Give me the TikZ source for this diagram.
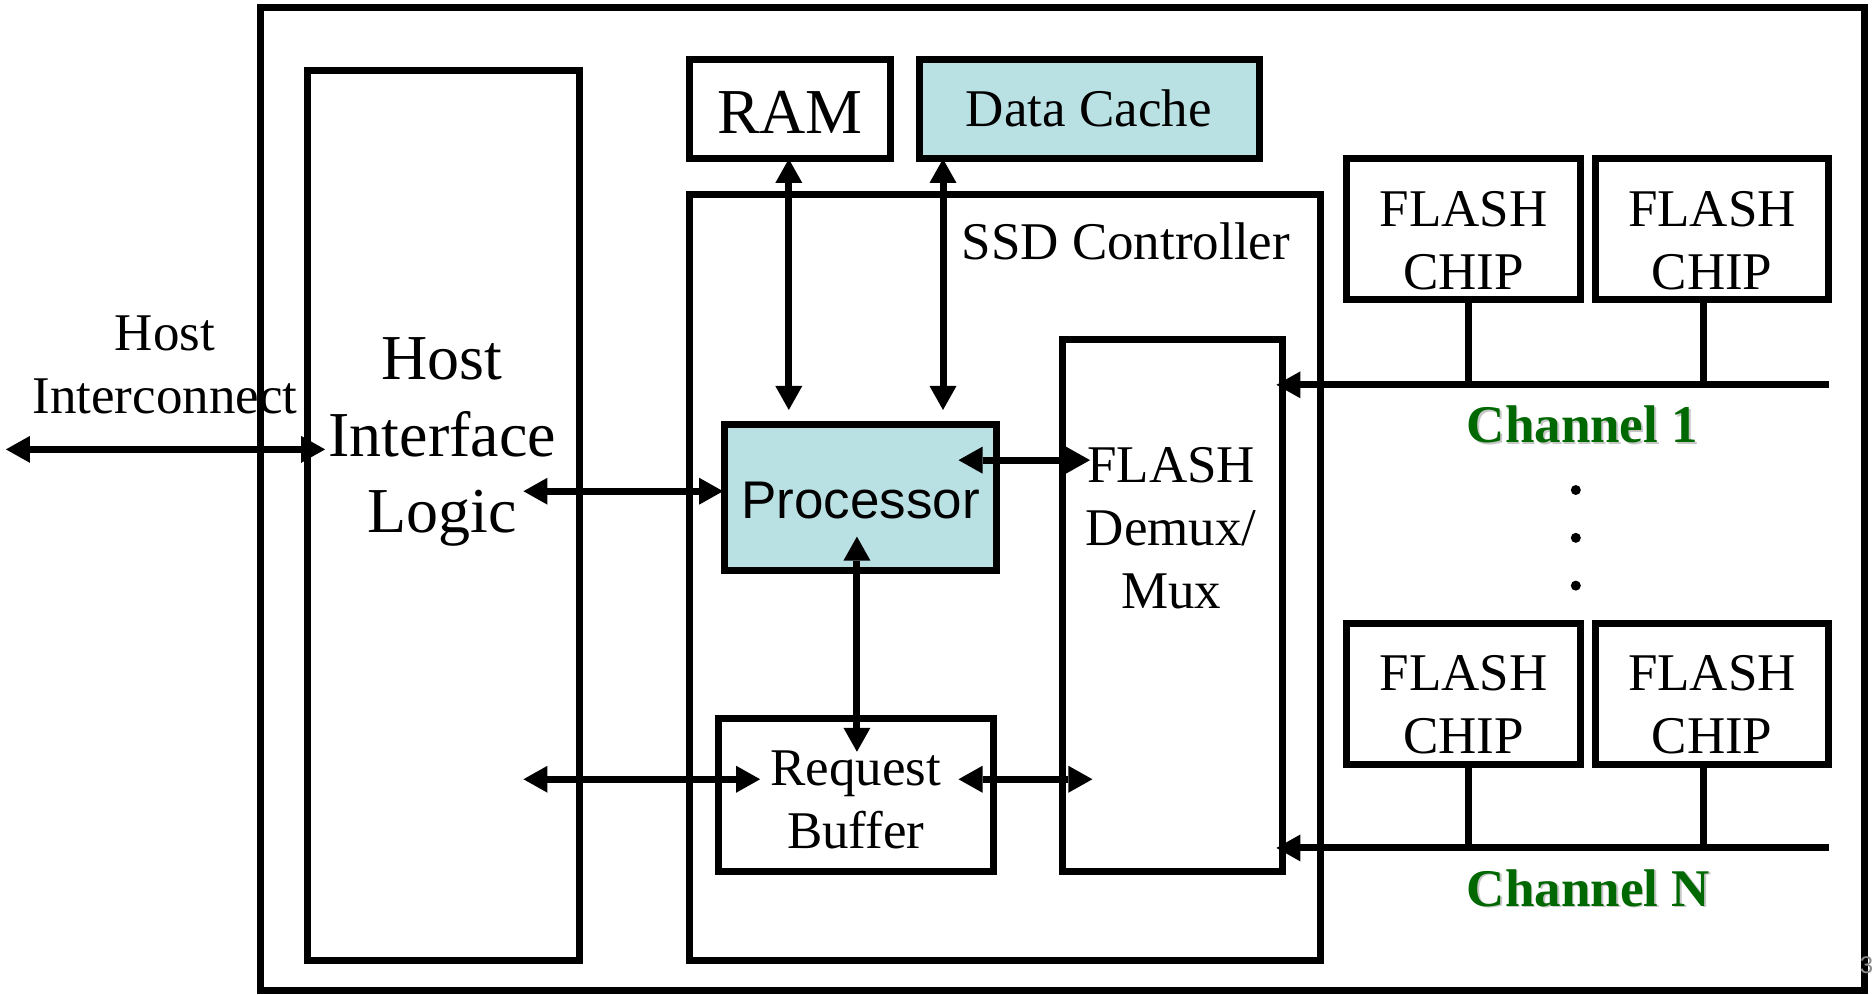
\documentclass[tikz,border=0pt]{standalone}
\usepackage{fontspec}
\setmainfont{Liberation Serif}
\newfontfamily\procsans{Liberation Sans}
\usetikzlibrary{arrows.meta,calc}
\definecolor{cellblue}{RGB}{185,224,227}
\definecolor{chgreen}{RGB}{0,104,0}
\newcommand\szLarge{\fontsize{64}{76.5}\selectfont}
\newcommand\szNormal{\fontsize{53}{63}\selectfont}

\begin{document}
\begin{tikzpicture}[x=1.1952pt,y=-1.1952pt,
  box/.style={draw,line width=7pt,inner sep=0pt,outer sep=0pt},
  label/.style={align=center,inner sep=0pt,font=\szNormal},
  wire/.style={line width=7pt},
  bi/.style={line width=7pt,
    {Triangle[length=24pt,width=27pt,line width=0pt]}-{Triangle[length=24pt,width=27pt,line width=0pt]}},
  uni/.style={line width=7pt,-{Triangle[length=24pt,width=27pt,line width=0pt]}},
  chan/.style={inner sep=0pt,font=\szNormal\bfseries}]

\useasboundingbox (0,0) rectangle (1568,832);

% enclosure of the drive
\node[box,minimum width=1604pt,minimum height=983.6pt] (drive) at (889,417.5) {};

% host side
\node[box,minimum width=272.5pt,minimum height=890.4pt] (hil) at (371,431.5) {};
\node[label,font=\szLarge] (hiltext) at (370,370) {Host\\Interface\\Logic};
\node[label] (hosttext) at (138,305) {Host\\Interconnect};

% memories
\node[box,minimum width=200.8pt,minimum height=99.2pt] (ram) at (661,91.5) {};
\node[label,font=\szLarge] (ramtext) at (661,94) {RAM};
\node[box,fill=cellblue,minimum width=340.6pt,minimum height=99.2pt] (dcache) at (911.5,91.5) {};
\node[label] (dctext) at (911,91) {Data Cache};

% controller
\node[box,minimum width=631.1pt,minimum height=766.1pt] (ctrl) at (841,483.5) {};
\node[label] (ctrltext) at (942,202) {SSD Controller};
\node[box,minimum width=219.9pt,minimum height=531.9pt] (mux) at (981,506.5) {};
\node[label] (muxtext) at (980,442) {FLASH\\Demux/\\Mux};
\node[box,fill=cellblue,minimum width=272.5pt,minimum height=145.8pt] (proc) at (720,416) {};
\node[label,font=\szNormal\procsans] (proctext) at (720,419) {Processor};
\node[box,minimum width=274.9pt,minimum height=153pt] (rbuf) at (716,665) {};
\node[label] (rbtext) at (716,669) {Request\\Buffer};

% flash chips
\node[box,minimum width=233.1pt,minimum height=141pt] (c11) at (1224.5,192) {};
\node[box,minimum width=233.1pt,minimum height=141pt] (c12) at (1432.5,192) {};
\node[box,minimum width=233.1pt,minimum height=141pt] (cn1) at (1224.5,580.5) {};
\node[box,minimum width=233.1pt,minimum height=141pt] (cn2) at (1432.5,580.5) {};
\foreach \c in {c11,c12,cn1,cn2}
  \node[label] (\c text) at ($(\c.center)+(0,9)$) {FLASH\\CHIP};

% channel buses
\coordinate (bus1) at ($(c12.south east)+(0,71)$);
\coordinate (busn) at ($(cn2.south east)+(0,70)$);
\draw[uni] (bus1) -- ($(mux.east |- bus1)+(-5,0)$);
\draw[uni] (busn) -- ($(mux.east |- busn)+(-5,0)$);
\draw[wire] ($(c11.south)+(4.5,0)$) -- ($(c11.south |- bus1)+(4.5,0)$);
\draw[wire] ($(c12.south)+(-7.5,0)$) -- ($(c12.south |- bus1)+(-7.5,0)$);
\draw[wire] ($(cn1.south)+(4.5,0)$) -- ($(cn1.south |- busn)+(4.5,0)$);
\draw[wire] ($(cn2.south)+(-7.5,0)$) -- ($(cn2.south |- busn)+(-7.5,0)$);

\node[chan,text=black!22] at (1325.5,356.5) {Channel 1};
\node[chan,text=chgreen] (ch1) at (1324,355) {Channel 1};
\node[chan,text=black!22] at (1330.5,744.5) {Channel N};
\node[chan,text=chgreen] (chn) at (1329,743) {Channel N};

\foreach \yy in {410,450,490}
  \fill (1318.5,\yy) circle[radius=5pt];

% data paths
\coordinate (hostL) at (5,376);
\draw[bi] (hostL) -- ($(hil.west |- hostL)+(15,0)$);
\draw[bi] ($(hil.east |- proc.west)+(-47,-5)$) -- ($(proc.west)+(-1,-5)$);
\draw[bi] ($(ram.south)+(-1,0)$) -- ($(ram.south |- proc.north)+(-1,-12)$);
\coordinate (dcx) at ($(dcache.south west)+(20,0)$);
\draw[bi] (dcx) -- ($(dcx |- proc.north)+(0,-12)$);
\draw[bi] ($(proc.east)+(-32,-31)$) -- ($(mux.west |- proc.east)+(23,-31)$);
\draw[bi] ($(proc.south)+(-3,-28)$) -- ($(rbuf.north)+(1,28)$);
\draw[bi] ($(hil.east |- rbuf.west)+(-47,-13)$) -- ($(rbuf.west)+(35,-13)$);
\draw[bi] ($(rbuf.east)+(-29,-13)$) -- ($(mux.west |- rbuf.east)+(25,-13)$);

% slide number at the page edge
\node[font=\fontsize{24}{28}\selectfont\procsans,text=black!45,anchor=east,inner sep=0pt] (pgno) at (1567.5,808) {3};
\end{tikzpicture}
\end{document}
